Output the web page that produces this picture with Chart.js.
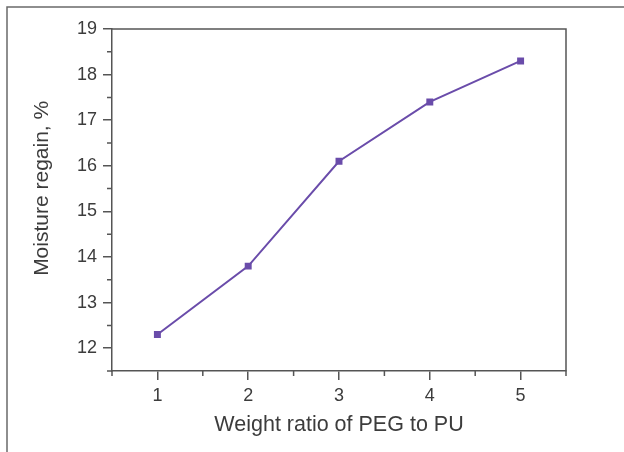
<!DOCTYPE html>
<html>
<head>
<meta charset="utf-8">
<script src="https://cdn.jsdelivr.net/npm/chart.js@4"></script>
<style>
  html, body { margin: 0; padding: 0; background: #fff; }
  #wrap { width: 624px; height: 452px; position: relative; }
</style>
</head>
<body>
<div id="wrap"><canvas id="chart" width="624" height="452"></canvas></div>
<script>
// data
const ratios = [1, 2, 3, 4, 5];
const regain = [12.3, 13.8, 16.1, 17.4, 18.3];
const xTicks = [1, 2, 3, 4, 5];
const yTicks = [12, 13, 14, 15, 16, 17, 18, 19];

const lineColor = '#6a4caa';
const axisColor = '#555555';
const textColor = '#3c3c3c';
const fontFamily = 'Liberation Sans, Arial, sans-serif';

// frame, top/right edges of the plot box and the small half-step ticks
const framePlugin = {
    id: 'frame',
    afterDraw(chart) {
        const ctx = chart.ctx;
        const a = chart.chartArea;
        const xs = chart.scales.x;
        const ys = chart.scales.y;
        ctx.save();
        ctx.strokeStyle = '#6a6a6a';
        ctx.lineWidth = 1.5;
        ctx.beginPath();
        ctx.moveTo(7, 452);
        ctx.lineTo(7, 7);
        ctx.lineTo(624, 7);
        ctx.stroke();

        ctx.strokeStyle = axisColor;
        ctx.lineWidth = 1.5;
        ctx.beginPath();
        ctx.moveTo(a.left, a.top);
        ctx.lineTo(a.right, a.top);
        ctx.lineTo(a.right, a.bottom);
        ctx.stroke();

        ctx.beginPath();
        for (let v = 0.5; v <= 5.5; v += 1) {
            const px = xs.getPixelForValue(v);
            ctx.moveTo(px, a.bottom);
            ctx.lineTo(px, a.bottom + 5);
        }
        for (let v = 11.5; v < 19; v += 1) {
            const py = ys.getPixelForValue(v);
            ctx.moveTo(a.left, py);
            ctx.lineTo(a.left - 5, py);
        }
        ctx.stroke();
        ctx.restore();
    }
};

const ctx = document.getElementById('chart').getContext('2d');
new Chart(ctx, {
    type: 'scatter',
    data: {
        datasets: [{
            data: ratios.map((r, i) => ({ x: r, y: regain[i] })),
            showLine: true,
            borderColor: lineColor,
            backgroundColor: lineColor,
            borderWidth: 2,
            pointStyle: 'rect',
            pointRadius: 3.5,
            pointHoverRadius: 3.5
        }]
    },
    options: {
        responsive: false,
        animation: false,
        layout: { padding: { left: 0, right: 58, top: 29, bottom: 0 } },
        plugins: {
            legend: { display: false },
            tooltip: { enabled: false }
        },
        scales: {
            x: {
                type: 'linear',
                min: 0.5,
                max: 5.5,
                afterBuildTicks: s => { s.ticks = xTicks.map(v => ({ value: v })); },
                afterFit: s => { s.height = 81; },
                grid: { drawOnChartArea: false, drawTicks: true, tickLength: 9, color: axisColor, lineWidth: 1.5 },
                border: { display: true, color: axisColor, width: 1.5 },
                ticks: { color: textColor, font: { family: fontFamily, size: 18 }, padding: 5 },
                title: {
                    display: true,
                    text: 'Weight ratio of PEG to PU',
                    color: textColor,
                    font: { family: fontFamily, size: 21.5 },
                    padding: { top: 0, bottom: 14 }
                }
            },
            y: {
                type: 'linear',
                min: 11.5,
                max: 19,
                afterBuildTicks: s => { s.ticks = yTicks.map(v => ({ value: v })); },
                afterFit: s => { s.width = 112; },
                grid: { drawOnChartArea: false, drawTicks: true, tickLength: 9, color: axisColor, lineWidth: 1.5 },
                border: { display: true, color: axisColor, width: 1.5 },
                ticks: { color: textColor, font: { family: fontFamily, size: 18 }, padding: 6 },
                title: {
                    display: true,
                    // leading spaces nudge the label a little above the axis centre, as in the original
                    text: '    Moisture regain, %',
                    color: textColor,
                    font: { family: fontFamily, size: 21 },
                    padding: { top: 30, bottom: 0 }
                }
            }
        }
    },
    plugins: [framePlugin]
});
</script>
</body>
</html>
